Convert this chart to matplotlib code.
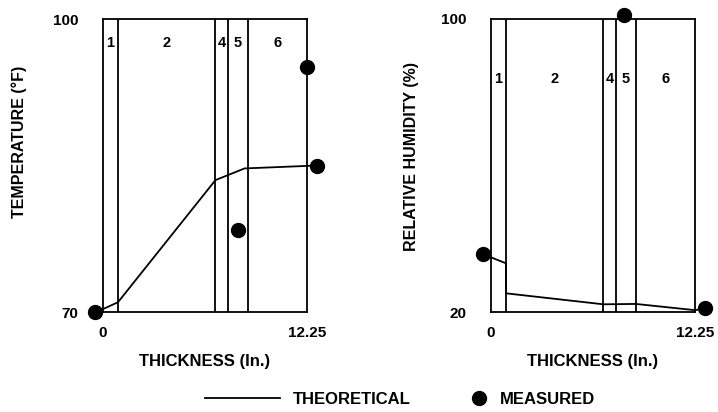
import matplotlib
matplotlib.use("Agg")
import matplotlib.pyplot as plt
from matplotlib.lines import Line2D

plt.rcParams['font.family'] = ['Liberation Sans', 'DejaVu Sans']
plt.rcParams['font.weight'] = 'bold'

# Wall layers (in.)
layer_edges = [0.9, 6.75, 7.5, 8.7]
layer_names = ["1", "2", "4", "5", "6"]
wall_thickness = 12.25

# Temperature (deg F)
temp_theory_x = [0.0, 0.9, 6.75, 8.5, 12.85]
temp_theory_y = [70.3, 71.0, 83.5, 84.7, 85.0]
temp_meas_x = [-0.5, 8.1, 12.25, 12.85]
temp_meas_y = [70.0, 78.4, 95.1, 85.0]

# Relative humidity (%)
rh_theory_x = [-0.48, 0.9, 0.9, 6.75, 8.7, 12.25, 12.85]
rh_theory_y = [35.8, 33.3, 25.1, 22.1, 22.2, 20.5, 21.0]
rh_meas_x = [-0.48, 8.0, 12.85]
rh_meas_y = [35.8, 101.0, 21.0]

fig = plt.figure(figsize=(7.18, 4.12), dpi=100)
ax1 = fig.add_axes([103 / 718, 1 - 312 / 412, 204 / 718, 293 / 412])
ax2 = fig.add_axes([491 / 718, 1 - 312 / 412, 204 / 718, 293 / 412])


def draw_panel(ax, ylim, th_x, th_y, m_x, m_y, ylabel, label_y, ylabel_xy):
    ax.set_xlim(0, wall_thickness)
    ax.set_ylim(*ylim)
    for e in layer_edges:
        ax.axvline(e, color='black', lw=1.3)
    edges = [0] + layer_edges + [wall_thickness]
    for i, name in enumerate(layer_names):
        mid = (edges[i] + edges[i + 1]) / 2
        ax.text(mid, label_y, name, transform=ax.get_xaxis_transform(),
                ha='center', va='center', fontsize=10.5, fontweight='bold')
    ax.plot(th_x, th_y, color='black', lw=1.3, clip_on=False, zorder=3)
    ax.plot(m_x, m_y, 'o', color='black', ms=10, clip_on=False, zorder=4)
    for s in ax.spines.values():
        s.set_linewidth(1.3)
    ax.set_xticks([0, wall_thickness], ["0", "12.25"])
    ax.set_yticks(list(ylim), [str(v) for v in ylim])
    ax.tick_params(length=0, labelsize=11)
    ax.tick_params(axis='x', pad=10)
    ax.tick_params(axis='y', pad=18)
    for t in ax.get_xticklabels() + ax.get_yticklabels():
        t.set_fontweight('bold')
    ax.set_xlabel("THICKNESS (In.)", fontsize=12, fontweight='bold', labelpad=10)
    ax.set_ylabel(ylabel, fontsize=11.5, fontweight='bold')
    ax.yaxis.set_label_coords(*ylabel_xy)


draw_panel(ax1, (70, 100), temp_theory_x, temp_theory_y, temp_meas_x, temp_meas_y,
           "TEMPERATURE (°F)", 0.918, (-0.373, 0.58))
draw_panel(ax2, (20, 100), rh_theory_x, rh_theory_y, rh_meas_x, rh_meas_y,
           "RELATIVE HUMIDITY (%)", 0.795, (-0.353, 0.53))

h_line = Line2D([], [], color='black', lw=1.3)
h_dot = Line2D([], [], color='black', marker='o', ms=10, ls='none')
fig.legend(handles=[h_line], labels=["THEORETICAL"], loc='center left',
           bbox_to_anchor=(205 / 718, 1 - 399 / 412), frameon=False,
           handlelength=4.5, handletextpad=0.78, borderpad=0, borderaxespad=0,
           prop={'size': 12, 'weight': 'bold'})
fig.legend(handles=[h_dot], labels=["MEASURED"], loc='center left',
           bbox_to_anchor=(472 / 718, 1 - 399 / 412), frameon=False,
           handlelength=0.84, handletextpad=0.84, borderpad=0, borderaxespad=0,
           prop={'size': 12, 'weight': 'bold'})

fig.savefig("out.png", dpi=100)
